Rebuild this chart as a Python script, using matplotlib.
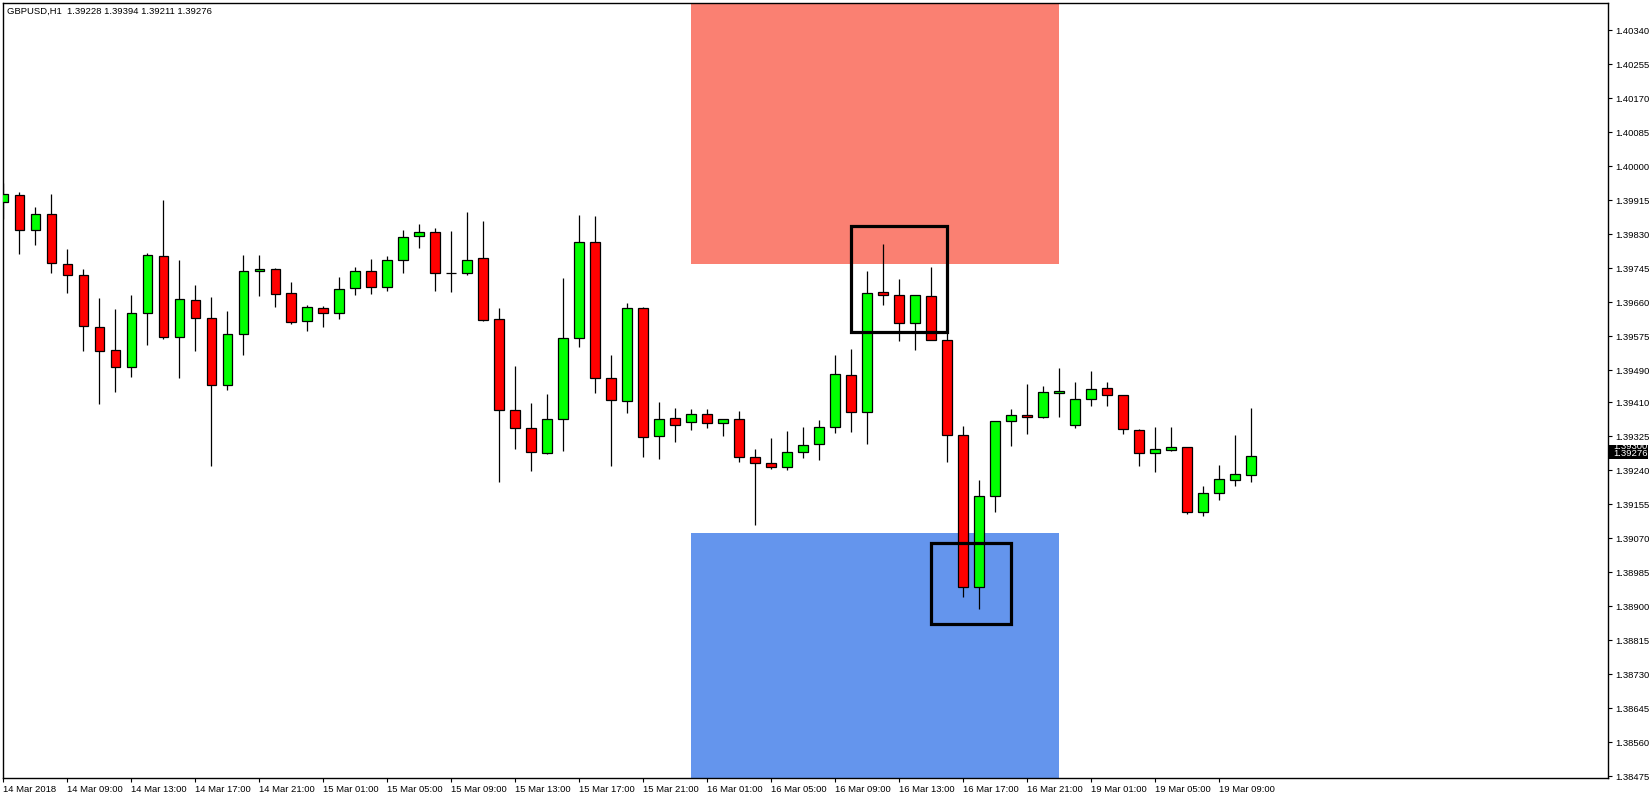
import numpy as np
import matplotlib.pyplot as plt
import matplotlib.transforms as mtransforms
from matplotlib.patches import Rectangle

plt.rcParams['font.family'] = ['Liberation Sans', 'DejaVu Sans']

symbol = 'GBPUSD,H1'

# H1 bars, 14 Mar 2018 05:00 -> 19 Mar 2018 11:00 (weekend removed)
opens = [1.39909, 1.39927, 1.39841, 1.39879, 1.39754, 1.39727, 1.39597, 1.39539, 1.39497, 1.39632,
         1.39774, 1.39572, 1.39664, 1.39619, 1.39452, 1.39579, 1.39737, 1.39742, 1.39682, 1.39612,
         1.39644, 1.39632, 1.39694, 1.39737, 1.39697, 1.39764, 1.39824, 1.39834, 1.39732, 1.39732,
         1.39769, 1.39617, 1.39389, 1.39344, 1.39282, 1.39367, 1.39569, 1.39809, 1.39469, 1.39412,
         1.39644, 1.39324, 1.39369, 1.39359, 1.39379, 1.39357, 1.39367, 1.39272, 1.39257, 1.39247,
         1.39284, 1.39304, 1.39347, 1.39477, 1.39384, 1.39684, 1.39677, 1.39607, 1.39674, 1.39564,
         1.39327, 1.38947, 1.39174, 1.39362, 1.39377, 1.39372, 1.39432, 1.39352, 1.39417, 1.39444,
         1.39427, 1.39339, 1.39282, 1.39289, 1.39297, 1.39136, 1.39182, 1.39214, 1.39228]
highs = [1.39957, 1.39935, 1.39898, 1.39930, 1.39793, 1.39743, 1.39670, 1.39643, 1.39678, 1.39783,
         1.39915, 1.39765, 1.39703, 1.39673, 1.39638, 1.39778, 1.39778, 1.39744, 1.39710, 1.39652,
         1.39649, 1.39723, 1.39747, 1.39767, 1.39774, 1.39839, 1.39854, 1.39845, 1.39838, 1.39885,
         1.39863, 1.39645, 1.39500, 1.39408, 1.39430, 1.39720, 1.39878, 1.39875, 1.39528, 1.39658,
         1.39647, 1.39410, 1.39395, 1.39393, 1.39392, 1.39367, 1.39388, 1.39293, 1.39320, 1.39338,
         1.39347, 1.39365, 1.39528, 1.39543, 1.39738, 1.39805, 1.39718, 1.39677, 1.39748, 1.39585,
         1.39349, 1.39215, 1.39362, 1.39392, 1.39455, 1.39449, 1.39495, 1.39460, 1.39488, 1.39460,
         1.39427, 1.39342, 1.39348, 1.39348, 1.39297, 1.39200, 1.39253, 1.39328, 1.39394]
lows = [1.39868, 1.39781, 1.39803, 1.39733, 1.39683, 1.39538, 1.39406, 1.39436, 1.39473, 1.39553,
        1.39568, 1.39471, 1.39538, 1.39250, 1.39441, 1.39528, 1.39676, 1.39648, 1.39604, 1.39588,
        1.39598, 1.39618, 1.39678, 1.39681, 1.39688, 1.39732, 1.39796, 1.39688, 1.39686, 1.39728,
        1.39613, 1.39211, 1.39293, 1.39238, 1.39279, 1.39288, 1.39548, 1.39433, 1.39251, 1.39383,
        1.39273, 1.39268, 1.39311, 1.39341, 1.39346, 1.39326, 1.39261, 1.39103, 1.39243, 1.39241,
        1.39271, 1.39266, 1.39333, 1.39336, 1.39306, 1.39653, 1.39563, 1.39541, 1.39564, 1.39261,
        1.38923, 1.38892, 1.39136, 1.39301, 1.39331, 1.39369, 1.39373, 1.39346, 1.39401, 1.39401,
        1.39331, 1.39251, 1.39236, 1.39287, 1.39131, 1.39126, 1.39166, 1.39201, 1.39211]
closes = [1.39929, 1.39839, 1.39879, 1.39757, 1.39727, 1.39599, 1.39537, 1.39497, 1.39632, 1.39777,
          1.39572, 1.39667, 1.39619, 1.39452, 1.39579, 1.39737, 1.39742, 1.39679, 1.39609, 1.39647,
          1.39632, 1.39692, 1.39737, 1.39697, 1.39764, 1.39822, 1.39834, 1.39732, 1.39732, 1.39764,
          1.39614, 1.39389, 1.39344, 1.39284, 1.39367, 1.39569, 1.39809, 1.39469, 1.39414, 1.39644,
          1.39322, 1.39367, 1.39352, 1.39379, 1.39357, 1.39367, 1.39272, 1.39257, 1.39247, 1.39284,
          1.39302, 1.39347, 1.39479, 1.39384, 1.39682, 1.39677, 1.39607, 1.39677, 1.39564, 1.39327,
          1.38947, 1.39174, 1.39362, 1.39377, 1.39372, 1.39434, 1.39437, 1.39417, 1.39442, 1.39427,
          1.39342, 1.39282, 1.39292, 1.39297, 1.39136, 1.39182, 1.39217, 1.39229, 1.39276]

xtick_pos = list(range(0, 80, 4))
xtick_labels = ['14 Mar 2018', '14 Mar 09:00', '14 Mar 13:00', '14 Mar 17:00', '14 Mar 21:00',
                '15 Mar 01:00', '15 Mar 05:00', '15 Mar 09:00', '15 Mar 13:00', '15 Mar 17:00',
                '15 Mar 21:00', '16 Mar 01:00', '16 Mar 05:00', '16 Mar 09:00', '16 Mar 13:00',
                '16 Mar 17:00', '16 Mar 21:00', '19 Mar 01:00', '19 Mar 05:00', '19 Mar 09:00']
ytick_labels = ['1.40340', '1.40255', '1.40170', '1.40085', '1.40000', '1.39915', '1.39830',
                '1.39745', '1.39660', '1.39575', '1.39490', '1.39410', '1.39325', '1.39240',
                '1.39155', '1.39070', '1.38985', '1.38900', '1.38815', '1.38730', '1.38645',
                '1.38560', '1.38475']

# zones: bar from, bar to, price low, price high
supply_zone = [43, 66, 1.39756, 1.40500]
demand_zone = [43, 66, 1.38400, 1.39083]
box1 = [53, 59, 1.39584, 1.39850]
box2 = [58, 63, 1.38854, 1.39057]
ask_price = 1.39300

fs = 6.8

fig = plt.figure(figsize=(16.51, 7.99), dpi=100)
ax = fig.add_axes([3 / 1651, 21 / 799, 1605 / 1651, 775 / 799])

# zones behind candles
for z, col in [(supply_zone, '#FA8072'), (demand_zone, '#6495ED')]:
    ax.add_patch(Rectangle((z[0], z[2]), z[1] - z[0], z[3] - z[2],
                           facecolor=col, edgecolor='none', zorder=1))

x = np.arange(len(opens))
o = np.array(opens)
c = np.array(closes)
colors = np.where(c >= o, '#00FF00', '#FF0000')
ax.vlines(x, lows, highs, color='black', linewidth=0.9, zorder=2)
ax.bar(x, np.abs(c - o), bottom=np.minimum(o, c), width=0.6, color=colors,
       edgecolor='black', linewidth=0.9, zorder=3)

for b in [box1, box2]:
    ax.add_patch(Rectangle((b[0], b[2]), b[1] - b[0], b[3] - b[2],
                           fill=False, edgecolor='black', linewidth=2.3, zorder=4))

ax.set_xlim(-0.02, 100.3)
ax.set_ylim(1.38470, 1.404075)

ax.set_xticks(xtick_pos)
ax.set_xticklabels(xtick_labels)
for lbl in ax.get_xticklabels():
    lbl.set_ha('left')
ax.yaxis.tick_right()
ax.set_yticks([float(s) for s in ytick_labels])
ax.set_yticklabels(ytick_labels)
ax.tick_params(axis='both', direction='out', length=3, width=0.8,
               labelsize=fs, colors='black')
ax.tick_params(axis='x', pad=2)
ax.tick_params(axis='y', pad=2)
for s in ax.spines.values():
    s.set_linewidth(1.0)
    s.set_color('black')

# bid / ask labels on the price scale
trans = mtransforms.blended_transform_factory(ax.transAxes, ax.transData)
lab_box = Rectangle((1.0, 1.39268), 40 / 1605, 0.00035, transform=trans,
                    facecolor='black', edgecolor='none', clip_on=False, zorder=5)
ax.add_patch(lab_box)
t = ax.text(1.0 + 5 / 1605, ask_price, f'{ask_price:.5f}', transform=trans,
            color='white', fontsize=fs, va='center', ha='left', zorder=6)
t.set_clip_path(lab_box)
ax.text(1.0 + 5 / 1605, 1.39282, f'{closes[-1]:.5f}', transform=trans,
        color='white', fontsize=fs, va='center', ha='left', zorder=6, clip_on=False)

title = f'{symbol}  {opens[-1]:.5f} {highs[-1]:.5f} {lows[-1]:.5f} {closes[-1]:.5f}'
fig.text(7 / 1651, 1 - 11 / 799, title, fontsize=fs, va='center', ha='left')

fig.savefig('out.png', dpi=100, facecolor='white')
